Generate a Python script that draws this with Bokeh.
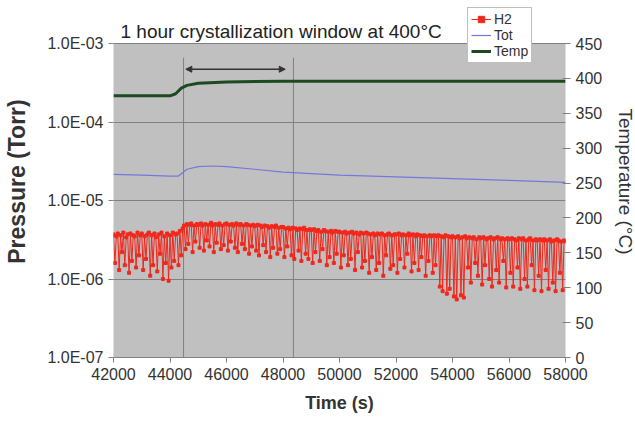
from bokeh.plotting import figure
from bokeh.models import (Range1d, LinearAxis, LinearScale, FixedTicker, CustomJSTickFormatter,
                          Arrow, NormalHead, Legend, LegendItem, BoxAnnotation, Label)
from bokeh.embed import file_html
from bokeh.resources import INLINE

# ---------------- data ----------------
time_h2 = list(range(42000, 58001, 50))
h2_e6 = [
    3.7, 1.6, 3.5, 3.8, 1.3, 3.6, 2.2, 3.9, 1.5, 3.4, 3.7, 1.2, 3.8, 1.7, 3.6, 3.5, 1.4, 3.9, 2.0, 3.6,
    3.8, 1.3, 3.5, 1.8, 3.7, 3.9, 1.1, 3.6, 1.5, 3.8, 3.4, 1.25, 3.7, 2.1, 3.9, 1.0, 3.5, 1.6, 3.8, 0.95,
    3.6, 1.4, 3.9, 1.7, 3.7, 3.8, 1.5, 4.1, 2.0, 4.4, 4.8, 2.4, 5.0, 2.8, 4.9, 5.1, 2.2, 4.8, 3.0, 5.0,
    4.9, 2.5, 5.1, 4.8, 2.3, 5.0, 3.1, 4.9, 2.6, 5.2, 4.8, 2.2, 5.0, 2.9, 4.9, 5.1, 2.4, 4.8, 2.7, 5.0,
    5.1, 2.3, 4.9, 3.0, 5.0, 4.8, 2.5, 5.1, 2.2, 4.9, 5.0, 2.8, 4.8, 2.4, 5.0, 4.9, 2.1, 4.8, 2.6, 4.9,
    4.7, 2.3, 4.9, 2.0, 4.8, 4.6, 2.7, 4.8, 2.2, 4.7, 4.5, 1.9, 4.7, 2.5, 4.6, 4.8, 2.1, 4.5, 2.4, 4.6,
    4.6, 1.9, 4.4, 2.6, 4.5, 4.3, 2.0, 4.5, 1.8, 4.4, 4.2, 2.3, 4.4, 1.7, 4.3, 4.5, 2.1, 4.2, 1.8, 4.3,
    4.2, 1.6, 4.3, 2.2, 4.1, 4.2, 1.7, 4.0, 2.4, 4.2, 4.1, 1.5, 4.0, 1.9, 4.1, 3.9, 1.6, 4.1, 2.1, 4.0,
    4.0, 1.4, 3.9, 2.0, 4.0, 3.8, 1.5, 3.9, 1.8, 4.0, 3.8, 1.3, 3.9, 2.2, 3.7, 3.9, 1.4, 3.8, 1.7, 3.9,
    3.8, 1.2, 3.7, 1.9, 3.8, 3.6, 1.3, 3.8, 1.6, 3.7, 3.8, 1.1, 3.6, 2.0, 3.7, 3.8, 1.35, 3.6, 1.5, 3.7,
    3.7, 1.2, 3.8, 1.8, 3.6, 3.7, 1.4, 3.6, 2.1, 3.8, 3.6, 1.25, 3.7, 1.6, 3.5, 3.7, 1.3, 3.6, 1.9, 3.5,
    3.6, 1.1, 3.5, 1.7, 3.6, 3.5, 1.2, 3.6, 1.5, 3.5, 3.6, 0.8, 3.5, 0.7, 3.4, 3.6, 0.65, 3.5, 0.75, 3.4,
    3.5, 0.6, 3.4, 0.55, 3.5, 3.3, 0.62, 3.4, 0.58, 3.5, 3.3, 1.4, 3.4, 0.9, 3.3, 3.4, 1.6, 3.2, 1.1, 3.4,
    3.3, 0.85, 3.4, 1.5, 3.2, 3.3, 1.0, 3.4, 0.8, 3.2, 3.3, 1.3, 3.4, 0.9, 3.2, 3.3, 1.7, 3.2, 0.78, 3.3,
    3.2, 1.2, 3.3, 0.8, 3.2, 3.1, 1.4, 3.3, 0.75, 3.2, 3.3, 1.0, 3.1, 0.8, 3.2, 3.3, 1.5, 3.1, 0.72, 3.2,
    3.1, 1.1, 3.2, 0.7, 3.1, 3.2, 1.3, 3.1, 0.75, 3.2, 3.0, 0.9, 3.1, 0.7, 3.2, 3.1, 1.2, 3.0, 0.72, 3.1,
    3.0]
h2 = [v * 1e-6 for v in h2_e6]

time_tot = [42000, 43000, 44000, 44300, 44600, 45000, 45500, 46000, 47000,
            48000, 49000, 50000, 52000, 54000, 56000, 58000]
tot_e5 = [2.15, 2.1, 2.05, 2.05, 2.5, 2.7, 2.75, 2.7, 2.5,
          2.3, 2.2, 2.1, 2.0, 1.9, 1.8, 1.7]
tot = [v * 1e-5 for v in tot_e5]

time_temp = [42000, 44000, 44200, 44400, 44600, 45000, 46000, 48000, 50000, 58000]
temp_c = [375, 375, 378, 386, 390, 393, 395, 396, 396, 396]

x_ticks = [42000, 44000, 46000, 48000, 50000, 52000, 54000, 56000, 58000]
p_ticks = [1e-7, 1e-6, 1e-5, 1e-4, 1e-3]
t_ticks = [0, 50, 100, 150, 200, 250, 300, 350, 400, 450]
x_min, x_max = 42000, 58000
p_min, p_max = 1e-7, 1e-3
t_min, t_max = 0, 450
window_lines = [44480, 48370]
window_top = 6.6e-4
arrow_x = [44560, 48080]
arrow_y = 4.7e-4
title_text = "1 hour crystallization window at 400°C"

# ---------------- layout ----------------
FONT = "Liberation Sans"
TXT = "#333333"
PLOT_H = 314          # pixel height of the gray plot area
EXTRA = 38            # white headroom above the gray area (title / legend)
dec = 4.0             # decades shown on the pressure axis
top_p = p_max * 10 ** (dec * EXTRA / PLOT_H)
top_t = t_max * (PLOT_H + EXTRA) / PLOT_H

p = figure(frame_width=452, frame_height=PLOT_H + EXTRA,
           x_range=Range1d(x_min, x_max), y_range=Range1d(p_min, top_p),
           y_axis_type="log", output_backend="svg", toolbar_location=None,
           min_border_left=113, min_border_right=70, min_border_top=5,
           min_border_bottom=67,
           background_fill_color="white", border_fill_color="white",
           outline_line_color=None)

p.extra_y_ranges = {"temp": Range1d(t_min, top_t)}
p.extra_y_scales = {"temp": LinearScale()}

p.add_layout(BoxAnnotation(left=x_min, right=x_max, bottom=p_min, top=p_max,
                           fill_color="#c0c0c0", fill_alpha=1.0,
                           line_color="#808080", line_width=1, level="image"))

# grids
p.xgrid.grid_line_color = None
p.ygrid.grid_line_color = "#808080"
p.ygrid.grid_line_width = 1

# axes
xa = p.xaxis[0]
xa.ticker = FixedTicker(ticks=x_ticks, minor_ticks=[])
xa.axis_label = "Time (s)"
ya = p.yaxis[0]
ya.ticker = FixedTicker(ticks=p_ticks, minor_ticks=[])
ya.formatter = CustomJSTickFormatter(code="""
var e = Math.round(Math.log10(tick));
var m = tick / Math.pow(10, e);
var a = Math.abs(e);
return m.toFixed(1) + 'E' + (e < 0 ? '-' : '+') + (a < 10 ? '0' : '') + a;
""")
ya.axis_label = "Pressure (Torr)"

ra = LinearAxis(y_range_name="temp", ticker=FixedTicker(ticks=t_ticks, minor_ticks=[]),
                axis_label="Temperature (°C)")
p.add_layout(ra, "right")

for ax in (xa, ya, ra):
    ax.major_label_text_font = FONT
    ax.major_label_text_font_size = "16px"
    ax.major_label_text_color = TXT
    ax.axis_line_color = "#808080"
    ax.major_tick_line_color = "#808080"
    ax.major_tick_out = 5
    ax.major_tick_in = 0
    ax.minor_tick_line_color = None
    ax.axis_label_text_font = FONT
    ax.axis_label_text_color = TXT
    ax.axis_label_text_font_style = "bold"
ya.axis_line_color = None
ra.axis_line_color = None
xa.axis_label_text_font_size = "18px"
xa.axis_label_standoff = 10
ya.axis_label_text_font_size = "23px"
ya.axis_label_standoff = 14
ra.axis_label_text_font_size = "19px"
ra.axis_label_text_font_style = "normal"
ra.axis_label_standoff = 10
ra.major_tick_in = 3

# title
p.add_layout(Label(x=7, y=PLOT_H + EXTRA - 26, x_units="screen", y_units="screen",
                   text=title_text, text_font=FONT, text_font_size="19px",
                   text_color="#222222", text_baseline="middle", text_align="left"))

# window lines and arrow
p.segment(x0=window_lines, y0=[p_min] * len(window_lines), x1=window_lines,
          y1=[window_top] * len(window_lines), line_color="#808080", line_width=1)
p.add_layout(Arrow(start=NormalHead(size=6, fill_color="#333333", line_color="#333333"),
                   end=NormalHead(size=6, fill_color="#333333", line_color="#333333"),
                   x_start=arrow_x[0], y_start=arrow_y, x_end=arrow_x[1], y_end=arrow_y,
                   line_color="#333333", line_width=1.5))

# series
h2_line = p.line(time_h2, h2, line_color="#f0281c", line_width=1)
h2_pts = p.scatter(time_h2, h2, marker="square", size=3, fill_color="#f0281c",
                   line_color="#f0281c")
tot_line = p.line(time_tot, tot, line_color="#7478d8", line_width=1.2)
temp_line = p.line(time_temp, temp_c, y_range_name="temp", line_color="#1d4a20", line_width=3)

legend = Legend(items=[LegendItem(label="H2", renderers=[h2_line, h2_pts]),
                       LegendItem(label="Tot", renderers=[tot_line]),
                       LegendItem(label="Temp", renderers=[temp_line])],
                location=(354, 294), orientation="vertical",
                label_text_font=FONT, label_text_font_size="14px", label_text_color=TXT,
                glyph_width=20, glyph_height=16, label_height=16, spacing=0,
                padding=3, margin=0, label_standoff=3,
                border_line_color="#808080", background_fill_color="white",
                background_fill_alpha=1.0)
p.add_layout(legend, "center")

open("out.html", "w").write(file_html(p, INLINE))
